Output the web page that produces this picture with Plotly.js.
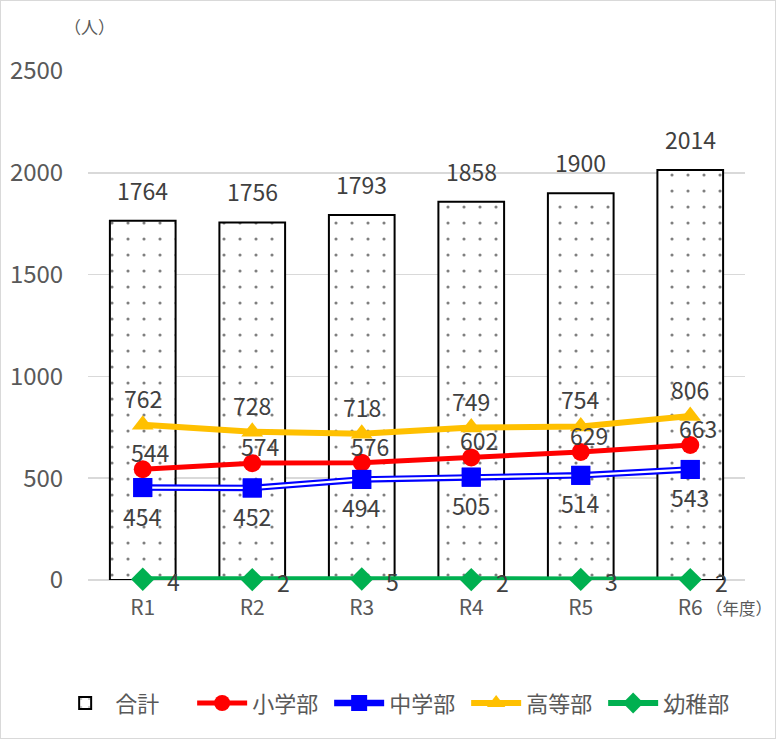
<!DOCTYPE html>
<html><head><meta charset="utf-8">
<script src="https://cdn.plot.ly/plotly-3.0.1.min.js"></script>
<style>
html,body{margin:0;padding:0;background:#fff;}
#chart{width:774px;height:737px;border:1px solid #d9d9d9;}
</style></head>
<body><div id="chart"></div>
<script>
const categories = ['R1','R2','R3','R4','R5','R6'];
const total      = [1764, 1756, 1793, 1858, 1900, 2014];
const elementary = [544, 574, 576, 602, 629, 663];
const juniorHigh = [454, 452, 494, 505, 514, 543];
const highSchool = [762, 728, 718, 749, 754, 806];
const kinder     = [4, 2, 5, 2, 3, 2];

const FONT = '"Noto Sans CJK JP", "Noto Sans", sans-serif';
const LBL = {family: FONT, size: 23, color: '#404040'};

const traces = [
  {type:'bar', name:'合計', x:categories, y:total,
   marker:{color:'#ffffff', line:{color:'#000000', width:2},
     pattern:{shape:'.', size:16, solidity:0.03, fgcolor:'#7f7f7f', bgcolor:'#ffffff'}},
   width:0.6, hoverinfo:'skip'},
  {type:'scatter', mode:'lines+markers', name:'小学部', x:categories, y:elementary, cliponaxis:false,
   line:{color:'#ff0000', width:5}, marker:{symbol:'circle', size:18, color:'#ff0000'}},
  {type:'scatter', mode:'lines+markers', name:'中学部', x:categories, y:juniorHigh, legendgroup:'jh', cliponaxis:false,
   line:{color:'#0000ff', width:6.5}, marker:{symbol:'square', size:19, color:'#0000ff'}},
  {type:'scatter', mode:'lines', name:'中学部', x:categories, y:juniorHigh, legendgroup:'jh', showlegend:false, cliponaxis:false,
   line:{color:'#ffffff', width:2.2}, hoverinfo:'skip'},
  {type:'scatter', mode:'markers', name:'中学部', x:categories, y:juniorHigh, legendgroup:'jh', showlegend:false, cliponaxis:false,
   marker:{symbol:'square', size:19, color:'#0000ff'}, hoverinfo:'skip'},
  {type:'scatter', mode:'lines+markers', name:'高等部', x:categories, y:highSchool, cliponaxis:false,
   line:{color:'#ffc000', width:6}, marker:{symbol:'triangle-up', size:19, color:'#ffc000'}},
  {type:'scatter', mode:'lines+markers', name:'幼稚部', x:categories, y:kinder, cliponaxis:false,
   line:{color:'#00b050', width:6}, marker:{symbol:'diamond', size:18, color:'#00b050'}}
];

const annotations = [];
function addLabels(vals, xshift, yshift) {
  vals.forEach((v, i) => {
    annotations.push({x: categories[i], y: v, xref:'x', yref:'y', text: String(v),
      showarrow:false, xanchor:'center', yanchor:'middle', xshift:xshift, yshift:yshift, font:LBL});
  });
}
addLabels(total, 0, 31);
addLabels(highSchool, 0, 27);
addLabels(elementary, 8, 17);
addLabels(juniorHigh, 0, -28);
addLabels(kinder, 31, -2);

annotations.push({xref:'paper', yref:'paper', x:0.003, y:1.087, text:'（人）', showarrow:false,
  xanchor:'center', yanchor:'middle', font:{family:FONT, size:17, color:'#595959'}});
annotations.push({xref:'paper', yref:'paper', x:0.938, y:-0.055, text:'（年度）', showarrow:false,
  xanchor:'left', yanchor:'middle', font:{family:FONT, size:16.5, color:'#595959'}});

const layout = {
  width:774, height:737,
  margin:{l:87, r:30, t:70, b:158, autoexpand:false},
  paper_bgcolor:'#ffffff', plot_bgcolor:'#ffffff',
  font:{family:FONT, color:'#595959'},
  showlegend:true,
  barmode:'overlay',
  xaxis:{type:'category', showgrid:false, zeroline:false, showline:false,
    ticks:'outside', ticklen:9, tickcolor:'rgba(0,0,0,0)',
    tickfont:{family:FONT, size:21, color:'#595959'}},
  yaxis:{range:[0,2500], tickvals:[0,500,1000,1500,2000,2500], showgrid:true, gridcolor:'#d9d9d9', gridwidth:1.5,
    zeroline:true, zerolinecolor:'#d9d9d9', zerolinewidth:1.5, showline:false,
    ticks:'outside', ticklen:19, tickcolor:'rgba(0,0,0,0)',
    tickfont:{family:FONT, size:24, color:'#595959'}},
  legend:{orientation:'h', x:-0.05, xanchor:'left', y:-0.242, yanchor:'middle',
    font:{family:FONT, size:22, color:'#595959'}, itemwidth:50, traceorder:'normal',
    entrywidth:72, entrywidthmode:'pixels'},
  annotations:annotations
};

Plotly.newPlot('chart', traces, layout, {displayModeBar:false, staticPlot:true});
</script></body></html>
